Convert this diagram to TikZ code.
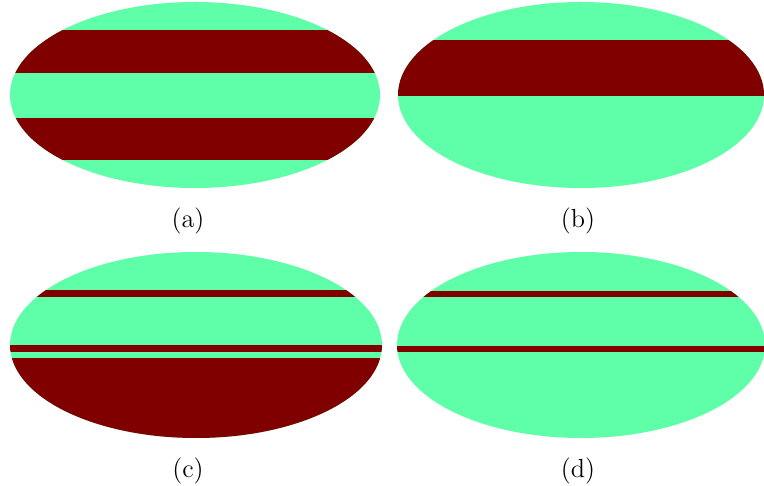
\documentclass[tikz,border=0pt]{standalone}
\usetikzlibrary{calc}

\definecolor{cool}{RGB}{94,255,168}
\definecolor{hot}{RGB}{128,0,0}

\begin{document}
\begin{tikzpicture}[x=0.55pt,y=-0.55pt,inner sep=0pt]
\useasboundingbox (0,0) rectangle (764,486);
\def\rx{185}
\def\ry{93}
\tikzset{sublabel/.style={anchor=base,font=\Large}}
% (a)
\begin{scope}
\clip (195,95) ellipse ({\rx} and {\ry});
\fill[cool] (0,0) rectangle (390,190);
\fill[hot] (0,30) rectangle (390,73);
\fill[hot] (0,118) rectangle (390,160);
\end{scope}
% (b)
\begin{scope}
\clip (581,95) ellipse ({183} and {\ry});
\fill[cool] (390,0) rectangle (764,190);
\fill[hot] (390,40) rectangle (764,96);
\end{scope}
% (c)
\begin{scope}
\clip (196,345) ellipse ({186} and {\ry});
\fill[cool] (0,250) rectangle (390,440);
\fill[hot] (0,290) rectangle (390,297);
\fill[hot] (0,345) rectangle (390,352);
\fill[hot] (0,358) rectangle (390,440);
\end{scope}
% (d)
\begin{scope}
\clip (581,345) ellipse ({184} and {\ry});
\fill[cool] (390,250) rectangle (764,440);
\fill[hot] (390,291) rectangle (764,297);
\fill[hot] (390,346) rectangle (764,352);
\end{scope}

\node[sublabel] (la) at (188,228) {(a)};
\node[sublabel] (lb) at (578,228) {(b)};
\node[sublabel] (lc) at (188,477) {(c)};
\node[sublabel] (ld) at (578,477) {(d)};
\end{tikzpicture}
\end{document}
